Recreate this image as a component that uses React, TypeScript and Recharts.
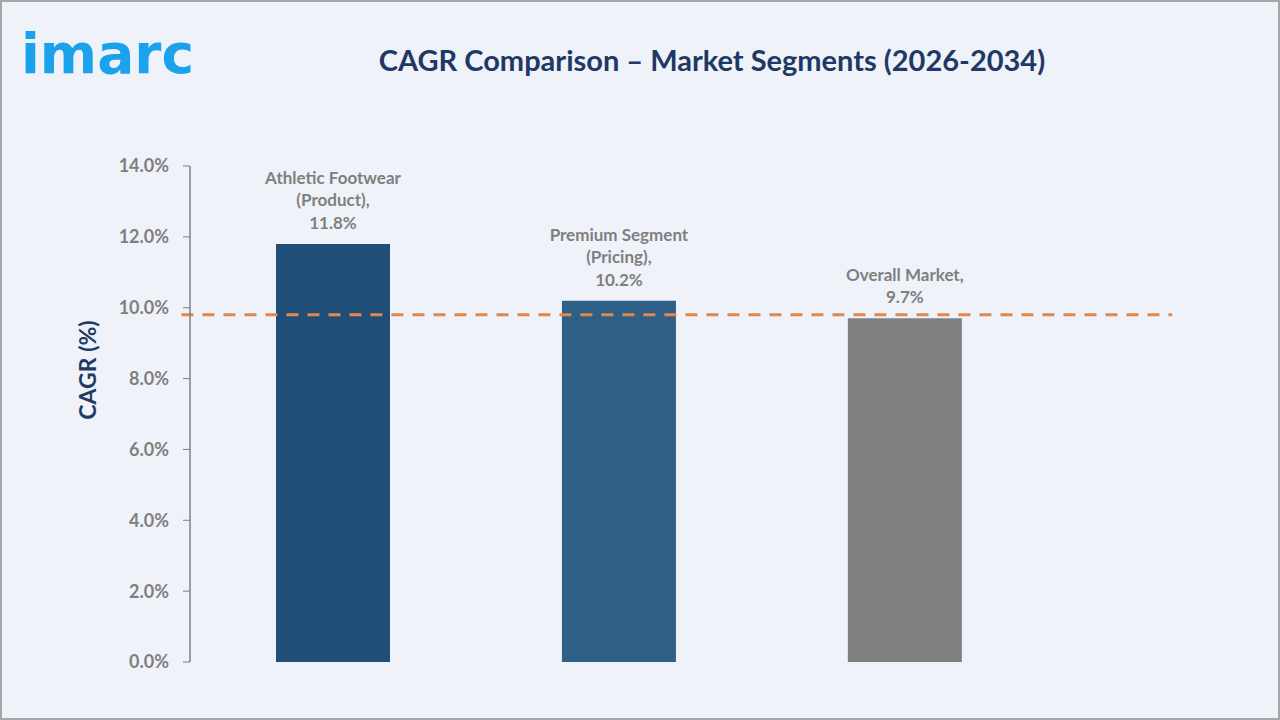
import { BarChart, Bar, XAxis, YAxis, Cell, LabelList, ReferenceLine } from 'recharts';

const categories = ['Athletic Footwear (Product)', 'Premium Segment (Pricing)', 'Overall Market'];
const labelLines = [
  ['Athletic Footwear', '(Product),'],
  ['Premium Segment', '(Pricing),'],
  ['Overall Market,'],
];
const cagrValues = [11.8, 10.2, 9.7];
const barColors = ['#1F4E79', '#2E5F87', '#808080'];
const yTicks = [0, 2, 4, 6, 8, 10, 12, 14];
const benchmarkValue = 9.8;

const FONT = 'Lato, "Open Sans", sans-serif';

// numeric x positions so the axis can run past the last bar like the original
const data = categories.map((name, i) => ({
  name,
  pos: i + 0.5,
  value: cagrValues[i],
  lines: labelLines[i],
}));

const BarLabel = (props: any) => {
  const { x, y, width, index } = props;
  const item = data[index];
  const all = [...item.lines, `${item.value.toFixed(1)}%`];
  const cx = x + width / 2;
  const lineH = 22.5;
  const lastBase = y - 15;
  return (
    <text textAnchor="middle" fill="#7F7F7F" fontFamily={FONT} fontWeight={700} fontSize={17}>
      {all.map((t, i) => (
        <tspan key={i} x={cx} y={lastBase - (all.length - 1 - i) * lineH}>
          {t}
        </tspan>
      ))}
    </text>
  );
};

const YLabel = () => (
  <text
    x={96}
    y={370}
    transform="rotate(-90, 96, 370)"
    textAnchor="middle"
    fill="#1F3B63"
    fontFamily={FONT}
    fontWeight={700}
    fontSize={23}
  >
    CAGR (%)
  </text>
);

export default function App() {
  return (
    <div
      style={{
        position: 'absolute',
        left: 0,
        top: 0,
        width: 1280,
        height: 720,
        boxSizing: 'border-box',
        border: '2px solid #A6A6A6',
        background: '#EFF3F9',
        fontFamily: FONT,
        overflow: 'hidden',
      }}
    >
      <div
        style={{
          position: 'absolute',
          left: 19,
          top: 20,
          fontSize: 55,
          lineHeight: 'normal',
          fontWeight: 700,
          color: '#1AA3EC',
          fontFamily: '"DejaVu Sans", sans-serif',
        }}
      >
        imarc
      </div>
      <div
        style={{
          position: 'absolute',
          left: 310,
          width: 800,
          top: 40,
          textAlign: 'center',
          fontSize: 29,
          fontWeight: 700,
          color: '#203864',
        }}
      >
        CAGR Comparison – Market Segments (2026-2034)
      </div>
      <div style={{ position: 'absolute', left: -2, top: -2 }}>
        <BarChart
          width={1280}
          height={720}
          data={data}
          margin={{ top: 166, right: 115, bottom: 58, left: 110 }}
        >
          <XAxis
            type="number"
            dataKey="pos"
            domain={[0, 3.41]}
            tick={false}
            tickLine={false}
            height={0}
            axisLine={{ stroke: '#7F7F7F', strokeWidth: 1.5 }}
          />
          <YAxis
            type="number"
            domain={[0, 14]}
            ticks={yTicks}
            width={80}
            interval={0}
            tickSize={7}
            tickMargin={14}
            tickFormatter={(v: number) => `${v.toFixed(1)}%`}
            tick={{ fill: '#7F7F7F', fontSize: 18, fontWeight: 700, fontFamily: FONT }}
            axisLine={{ stroke: '#7F7F7F', strokeWidth: 1.5 }}
            tickLine={{ stroke: '#7F7F7F' }}
            label={<YLabel />}
          />
          <Bar dataKey="value" barSize={114} isAnimationActive={false}>
            {data.map((d, i) => (
              <Cell key={d.name} fill={barColors[i]} />
            ))}
            <LabelList dataKey="value" content={<BarLabel />} />
          </Bar>
          <ReferenceLine
            segment={[
              { x: -0.03, y: benchmarkValue },
              { x: 3.435, y: benchmarkValue },
            ]}
            ifOverflow="visible"
            stroke="#E3884A"
            strokeWidth={3}
            strokeDasharray="12 9"
          />
        </BarChart>
      </div>
    </div>
  );
}
